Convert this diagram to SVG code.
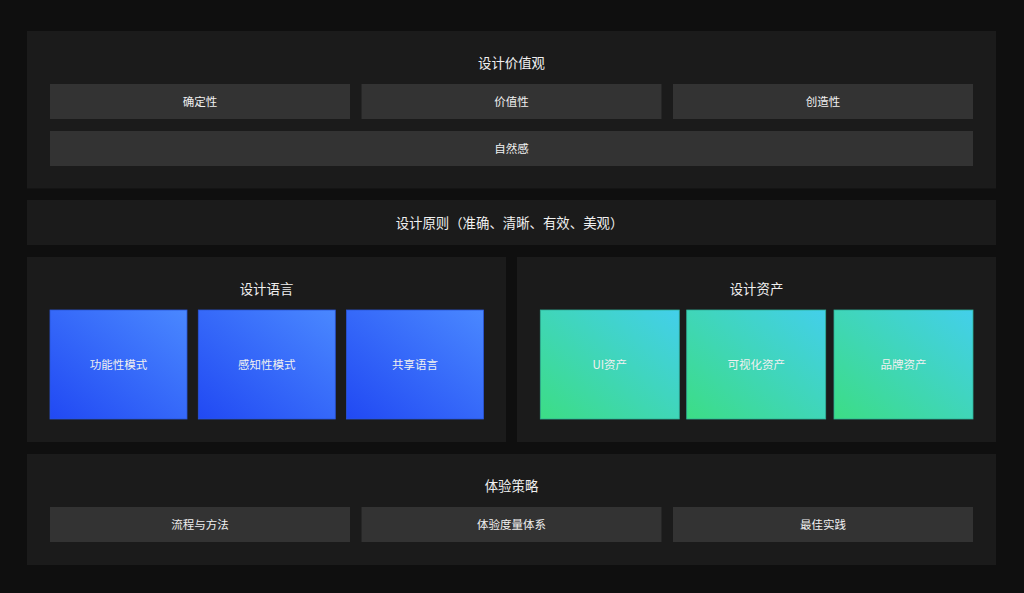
<svg xmlns="http://www.w3.org/2000/svg" width="1024" height="593" viewBox="0 0 1024 593">
<defs>
<linearGradient id="gb" x1="0" y1="1" x2="1" y2="0">
<stop offset="0" stop-color="#2149F3"/>
<stop offset="1" stop-color="#4A88FF"/>
</linearGradient>
<linearGradient id="gg" x1="0" y1="1" x2="1" y2="0">
<stop offset="0" stop-color="#3CDD85"/>
<stop offset="1" stop-color="#43CFEB"/>
</linearGradient>
<style>
.panel{fill:#1b1b1b}
.box{fill:#333333}
.blue{fill:url(#gb);stroke:#2a55d8;stroke-width:0.8}
.green{fill:url(#gg);stroke:#2fae96;stroke-width:0.8}
text{font-family:"Noto Sans CJK SC","Noto Sans",sans-serif;fill:#f0f0f0;text-anchor:middle;dominant-baseline:central}
.t{font-size:13.4px}
.l{font-size:11.5px}
</style>
</defs>
<rect width="1024" height="593" fill="#0f0f0f"/>
<g id="values">
<rect class="panel" x="27" y="31" width="969" height="157.5"/>
<text class="t" x="511.5" y="62.3">设计价值观</text>
<g id="v1"><rect class="box" x="50" y="84" width="300" height="35"/><text class="l" x="200" y="100.8">确定性</text></g>
<g id="v2"><rect class="box" x="361.5" y="84" width="300" height="35"/><text class="l" x="511.5" y="100.8">价值性</text></g>
<g id="v3"><rect class="box" x="673" y="84" width="300" height="35"/><text class="l" x="823" y="100.8">创造性</text></g>
<g id="v4"><rect class="box" x="50" y="131" width="923" height="35"/><text class="l" x="511.5" y="147.8">自然感</text></g>
</g>
<g id="principles">
<rect class="panel" x="27" y="200" width="969" height="45"/>
<text class="t" x="509.5" y="221.8">设计原则（准确、清晰、有效、美观）</text>
</g>
<g id="language">
<rect class="panel" x="27" y="257" width="479" height="185"/>
<text class="t" x="266.5" y="288.3">设计语言</text>
<g id="lang1"><rect class="blue" x="50" y="310" width="137" height="109"/><text class="l" x="118.5" y="363.8">功能性模式</text></g>
<g id="lang2"><rect class="blue" x="198.3" y="310" width="137" height="109"/><text class="l" x="266.8" y="363.8">感知性模式</text></g>
<g id="lang3"><rect class="blue" x="346.5" y="310" width="137" height="109"/><text class="l" x="415" y="363.8">共享语言</text></g>
</g>
<g id="assets">
<rect class="panel" x="517" y="257" width="479" height="185"/>
<text class="t" x="756.5" y="288.3">设计资产</text>
<g id="asset1"><rect class="green" x="540.3" y="310" width="139" height="109"/><text class="l" x="609.8" y="363.8">UI资产</text></g>
<g id="asset2"><rect class="green" x="686.7" y="310" width="139" height="109"/><text class="l" x="756.2" y="363.8">可视化资产</text></g>
<g id="asset3"><rect class="green" x="834" y="310" width="139" height="109"/><text class="l" x="903.5" y="363.8">品牌资产</text></g>
</g>
<g id="strategy">
<rect class="panel" x="27" y="454" width="969" height="111"/>
<text class="t" x="511.5" y="485.3">体验策略</text>
<g id="s1"><rect class="box" x="50" y="507" width="300" height="35"/><text class="l" x="200" y="523.8">流程与方法</text></g>
<g id="s2"><rect class="box" x="361.5" y="507" width="300" height="35"/><text class="l" x="511.5" y="523.8">体验度量体系</text></g>
<g id="s3"><rect class="box" x="673" y="507" width="300" height="35"/><text class="l" x="823" y="523.8">最佳实践</text></g>
</g>
<g id="connectors"></g>
</svg>
